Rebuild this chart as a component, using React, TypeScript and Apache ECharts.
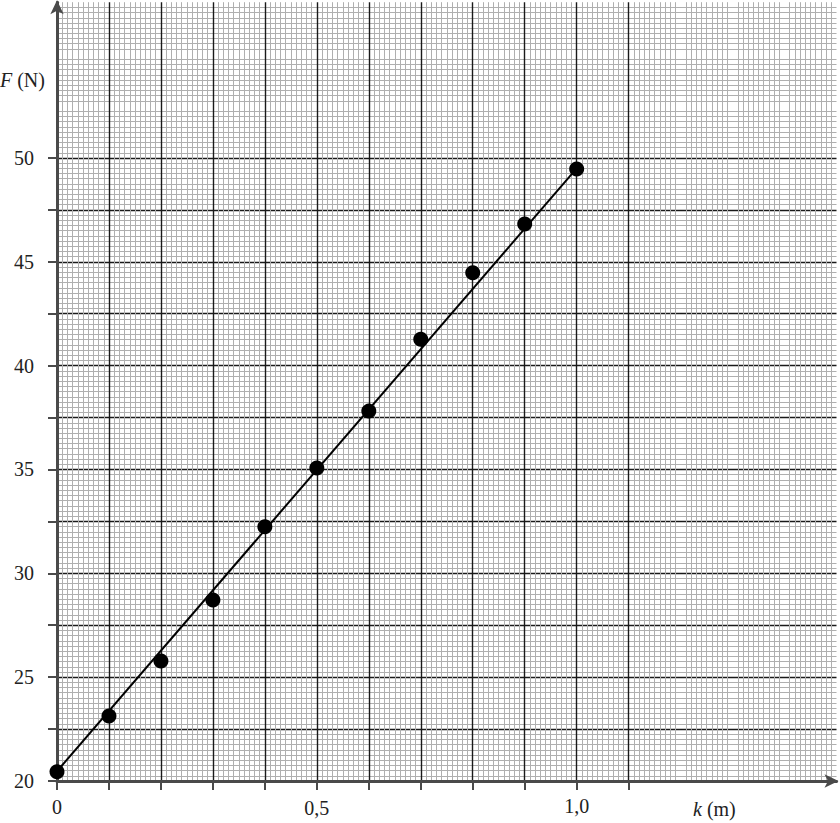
import React, { useEffect, useRef } from "react";
import * as echarts from "echarts";

const kValues = [0, 0.1, 0.2, 0.3, 0.4, 0.5, 0.6, 0.7, 0.8, 0.9, 1.0];
const fValues = [20.45, 23.13, 25.78, 28.71, 32.24, 35.07, 37.81, 41.27, 44.47, 46.82, 49.47];
const fitK = [0, 1.0];
const fitF = [20.47, 49.5];
const xTickValues = [0, 0.1, 0.2, 0.3, 0.4, 0.5, 0.6, 0.7, 0.8, 0.9, 1.0, 1.1];
const xLabelValues = [0, 0.5, 1.0];
const yTickValues = [20, 22.5, 25, 27.5, 30, 32.5, 35, 37.5, 40, 42.5, 45, 47.5, 50];
const yLabelValues = [20, 25, 30, 35, 40, 45, 50];

const FONT = "'Liberation Serif', 'Times New Roman', 'DejaVu Serif', serif";

export default function App() {
  const ref = useRef<HTMLDivElement>(null);
  useEffect(() => {
    if (!ref.current) return;
    const chart = echarts.init(ref.current, null, { renderer: "svg" });
    const majorLine = { show: true, lineStyle: { color: "#1a1a1a", width: 1.4 } };
    const minorLine = { show: true, lineStyle: { color: "#afafaf", width: 1 } };
    chart.setOption({
      animation: false,
      backgroundColor: "#ffffff",
      textStyle: { fontFamily: FONT },
      grid: {
        left: 57,
        right: 3.5,
        top: 2.2,
        bottom: 42,
        containLabel: false,
        outerBoundsMode: "none",
      },
      xAxis: {
        type: "value",
        min: 0,
        max: 1.5,
        interval: 0.1,
        axisLine: {
          show: true,
          lineStyle: { color: "#4a4a4a", width: 3 },
          symbol: ["none", "arrow"],
          symbolSize: [10, 14],
          symbolOffset: [0, 2],
        },
        axisTick: {
          show: true,
          inside: false,
          length: 9,
          lineStyle: { color: "#4a4a4a", width: 2 },
          customValues: xTickValues,
        },
        minorTick: { show: false, splitNumber: 10 },
        splitLine: majorLine,
        minorSplitLine: minorLine,
        axisLabel: {
          show: true,
          customValues: xLabelValues,
          margin: 12,
          fontFamily: FONT,
          fontSize: 20,
          color: "#222",
          formatter: (v: number) => {
            const s = v === 0 ? "0" : v.toFixed(1).replace(".", ",");
            if (v === 0) return "{a|" + s + "}";
            if (v === 0.5) return "{b|" + s + "}";
            return "{c|" + s + "}";
          },
          rich: {
            a: { fontFamily: FONT, fontSize: 20, lineHeight: 18, color: "#222", padding: [10, 0, 0, 0] },
            b: { fontFamily: FONT, fontSize: 20, lineHeight: 18, color: "#222", padding: [11, 0, 0, 0] },
            c: { fontFamily: FONT, fontSize: 20, lineHeight: 18, color: "#222", padding: [8, 0, 0, 0] },
          },
        },
      },
      yAxis: {
        type: "value",
        min: 20,
        max: 57.5,
        interval: 2.5,
        axisLine: {
          show: true,
          lineStyle: { color: "#4a4a4a", width: 3 },
          symbol: ["none", "arrow"],
          symbolSize: [10, 14],
          symbolOffset: [0, 2],
        },
        axisTick: {
          show: true,
          inside: false,
          length: 9,
          lineStyle: { color: "#4a4a4a", width: 2 },
          customValues: yTickValues,
        },
        minorTick: { show: false, splitNumber: 10 },
        splitLine: majorLine,
        minorSplitLine: minorLine,
        axisLabel: {
          show: true,
          customValues: yLabelValues,
          margin: 23,
          fontFamily: FONT,
          fontSize: 20,
          color: "#222",
        },
      },
      graphic: [
        {
          type: "text",
          left: 0,
          top: 70,
          style: {
            text: "{i|F} (N)",
            rich: {
              i: { fontFamily: FONT, fontSize: 20, fontStyle: "italic", fill: "#222" },
            },
            fontFamily: FONT,
            fontSize: 20,
            fill: "#222",
          },
        },
        {
          type: "text",
          left: 693,
          top: 799,
          style: {
            text: "{i|k} (m)",
            rich: {
              i: { fontFamily: FONT, fontSize: 20, fontStyle: "italic", fill: "#222" },
            },
            fontFamily: FONT,
            fontSize: 20,
            fill: "#222",
          },
        },
      ],
      series: [
        {
          type: "line",
          data: fitK.map((k, i) => [k, fitF[i]]),
          showSymbol: false,
          symbol: "none",
          lineStyle: { color: "#000", width: 2 },
          z: 3,
        },
        {
          type: "scatter",
          data: kValues.map((k, i) => [k, fValues[i]]),
          symbol: "circle",
          symbolSize: 15,
          itemStyle: { color: "#000", opacity: 1 },
          z: 4,
        },
      ],
    });
    return () => chart.dispose();
  }, []);
  return (
    <div
      ref={ref}
      style={{ position: "absolute", left: 0, top: 0, width: 840, height: 823 }}
    />
  );
}
